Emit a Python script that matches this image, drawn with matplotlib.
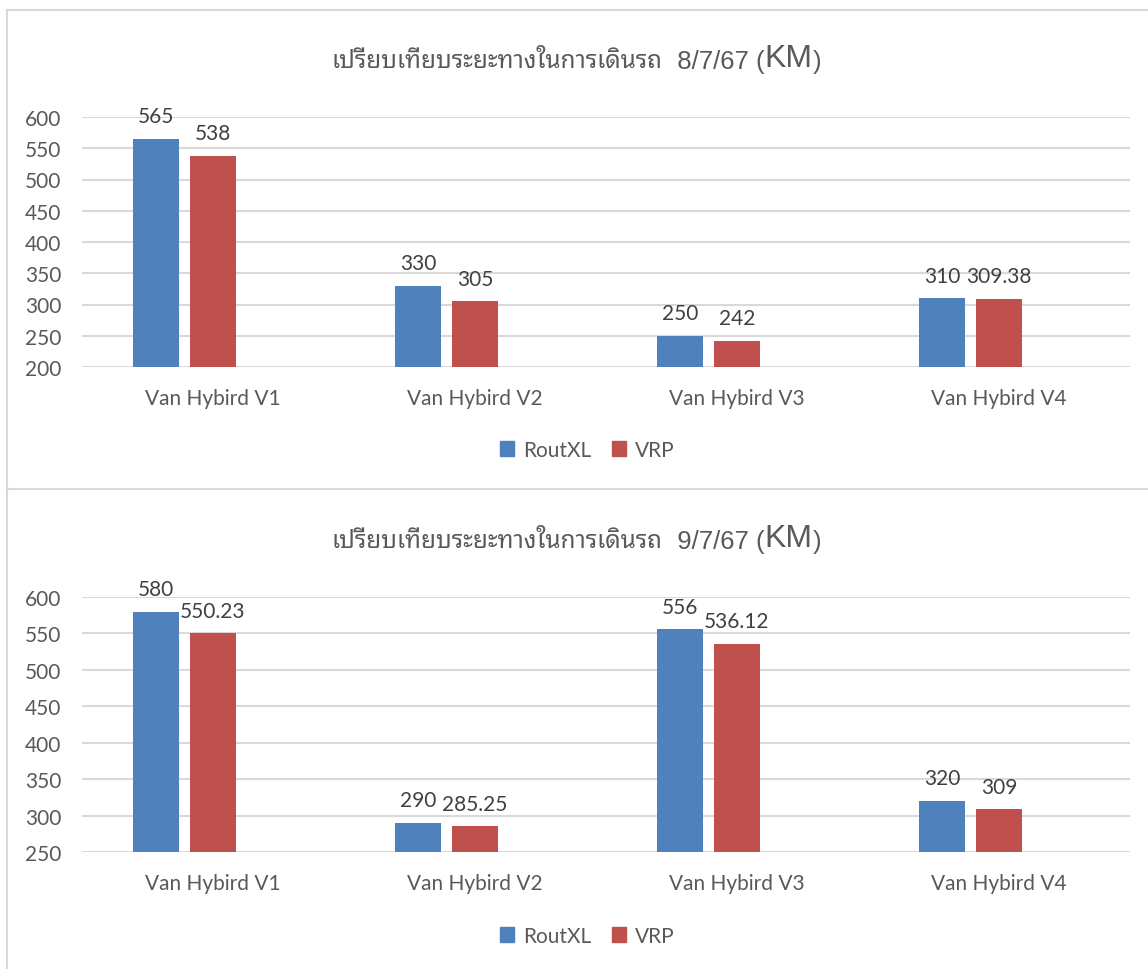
import matplotlib
matplotlib.use("Agg")
import matplotlib.pyplot as plt
import numpy as np
from matplotlib.patches import Patch

# --- data ---
categories = ["Van Hybird V1", "Van Hybird V2", "Van Hybird V3", "Van Hybird V4"]
series_names = ["RoutXL", "VRP"]

routxl_day1 = [565, 330, 250, 310]
vrp_day1 = [538, 305, 242, 309.38]
labels_routxl_day1 = ["565", "330", "250", "310"]
labels_vrp_day1 = ["538", "305", "242", "309.38"]

routxl_day2 = [580, 290, 556, 320]
vrp_day2 = [550.23, 285.25, 536.12, 309]
labels_routxl_day2 = ["580", "290", "556", "320"]
labels_vrp_day2 = ["550.23", "285.25", "536.12", "309"]

title_thai = "เปรียบเทียบระยะทางในการเดินรถ"
dates = ["8/7/67", "9/7/67"]
yticks_day1 = np.arange(200, 601, 50)
yticks_day2 = np.arange(250, 601, 50)

# --- style ---
plt.rcParams["font.family"] = ["Lato", "DejaVu Sans"]
BLUE = "#4F81BD"
RED = "#C0504D"
GREY = "#595959"
GRID = "#D9D9D9"
FS = 15

W, H = 1148, 970
fig = plt.figure(figsize=(W / 100, H / 100), dpi=100)


def px_axes(x0, y0, x1, y1):
    # pixel box (top-left origin) -> figure axes
    return fig.add_axes([x0 / W, 1 - y1 / H, (x1 - x0) / W, (y1 - y0) / H])


def panel(ax, rout, vrp, lab_r, lab_v, yticks, date, title_y, legend_y):
    x = np.arange(len(categories))
    w = 0.173
    step = 0.218
    base = yticks[0]
    b1 = ax.bar(x - step, np.array(rout) - base, w, bottom=base, color=BLUE, zorder=3)
    b2 = ax.bar(x, np.array(vrp) - base, w, bottom=base, color=RED, zorder=3)
    for bars, labs in ((b1, lab_r), (b2, lab_v)):
        for rect, t in zip(bars, labs):
            ax.annotate(t, (rect.get_x() + rect.get_width() / 2, rect.get_y() + rect.get_height()),
                        xytext=(0, 9), textcoords="offset points", ha="center", va="bottom",
                        fontsize=FS, color="#404040")
    ax.set_xlim(-0.5, len(categories) - 0.5)
    ax.set_ylim(yticks[0], yticks[-1])
    ax.set_yticks(yticks)
    ax.set_xticks(x)
    ax.set_xticklabels(categories)
    ax.tick_params(axis="y", length=0, pad=15, labelsize=FS, labelcolor=GREY)
    ax.tick_params(axis="x", length=0, pad=15, labelsize=FS, labelcolor=GREY)
    ax.grid(axis="y", color=GRID, linewidth=1.5, zorder=0)
    for s in ax.spines.values():
        s.set_visible(False)
    ax.set_axisbelow(True)

    # title in pieces: thai text + date + larger KM
    t1 = fig.text(332 / W, 1 - title_y / H, title_thai, fontsize=17.5, color=GREY,
                  family=["Noto Sans Thai Looped", "DejaVu Sans"], ha="left", va="baseline",
                  fontweight="light")
    t2 = ax.annotate("  " + date + " (", xy=(1, 0), xycoords=t1, va="bottom", ha="left",
                     fontsize=18.5, color=GREY, family=["Liberation Sans"], annotation_clip=False)
    t3 = ax.annotate("KM", xy=(1, 0), xycoords=t2, va="bottom", ha="left",
                     fontsize=23, color=GREY, family=["Liberation Sans"], annotation_clip=False)
    ax.annotate(")", xy=(1, 0), xycoords=t3, va="bottom", ha="left",
                fontsize=18.5, color=GREY, family=["Liberation Sans"], annotation_clip=False)

    handles = [Patch(color=BLUE), Patch(color=RED)]
    fig.legend(handles, series_names, loc="center", bbox_to_anchor=(587 / W, 1 - legend_y / H),
               ncol=2, frameon=False, fontsize=FS, labelcolor=GREY, handlelength=0.7,
               handleheight=0.7, handletextpad=0.4, columnspacing=1.0)


ax1 = px_axes(82, 118, 1130, 368)
panel(ax1, routxl_day1, vrp_day1, labels_routxl_day1, labels_vrp_day1, yticks_day1, dates[0], 68, 451)

ax2 = px_axes(82, 598, 1130, 853)
panel(ax2, routxl_day2, vrp_day2, labels_routxl_day2, labels_vrp_day2, yticks_day2, dates[1], 548, 937)

# chart borders
border = dict(color=GRID, linewidth=1.5, transform=fig.transFigure)
fig.add_artist(plt.Line2D([7 / W, 1], [1 - 11 / H, 1 - 11 / H], **border))
fig.add_artist(plt.Line2D([7 / W, 1], [1 - 490 / H, 1 - 490 / H], **border))
fig.add_artist(plt.Line2D([7 / W, 7 / W], [1 - 11 / H, 0], **border))

plt.savefig("out.png", dpi=100)
